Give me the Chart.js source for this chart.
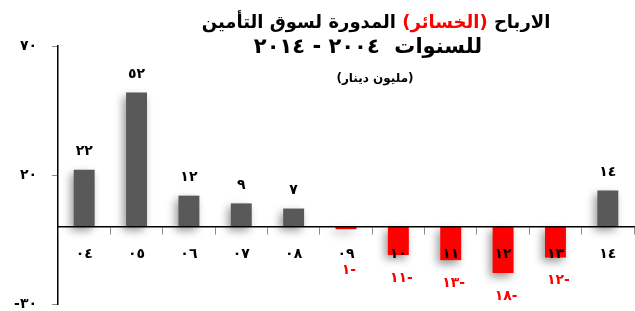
<!DOCTYPE html>
<html><head><meta charset="utf-8">
<script src="https://cdn.jsdelivr.net/npm/chart.js@4"></script>
<style>html,body{margin:0;padding:0;background:#fff;overflow:hidden}</style>
</head><body>
<canvas id="c" width="635" height="311"></canvas>
<script>
const categories = ['٠٤','٠٥','٠٦','٠٧','٠٨','٠٩','١٠','١١','١٢','١٣','١٤'];
const values = [22, 52, 12, 9, 7, -1, -11, -13, -18, -12, 14];
const yMin = -30, yMax = 70, yStep = 50;
const titleLine1 = ['الارباح', '(الخسائر)', 'المدورة لسوق التأمين'];
const titleLine2 = 'للسنوات  ٢٠٠٤ - ٢٠١٤';
const titleLine3 = '(مليون دينار)';

const FONT = "'DejaVu Sans', sans-serif";
const POS = '#595959', NEG = '#ff0000';

function toArabic(n){
  const d = String(Math.abs(n)).replace(/[0-9]/g, c => '٠١٢٣٤٥٦٧٨٩'[+c]);
  return d;
}
const barColors = values.map(v => v < 0 ? NEG : POS);

const decor = {
  id: 'decor',
  beforeDatasetsDraw(chart){
    const ctx = chart.ctx;
    ctx.save();
    ctx.shadowColor = 'rgba(0,0,0,0.4)';
    ctx.shadowBlur = 8;
    ctx.shadowOffsetX = -3;
    ctx.shadowOffsetY = 4;
  },
  afterDatasetsDraw(chart){
    const ctx = chart.ctx;
    ctx.restore();
    ctx.save();
    ctx.direction = 'ltr';
    ctx.textAlign = 'center';
    ctx.textBaseline = 'middle';
    ctx.font = 'bold 14px ' + FONT;
    const meta = chart.getDatasetMeta(0);
    meta.data.forEach((bar, i) => {
      const v = values[i];
      if (v >= 0){
        ctx.fillStyle = '#000';
        ctx.fillText(toArabic(v), bar.x, bar.y - 18);
      } else {
        ctx.fillStyle = NEG;
        const y = Math.max(bar.y + 23, 270);
        ctx.fillText(toArabic(v) + '-', bar.x + 3, y);
      }
    });
    ctx.restore();
  },
  afterDraw(chart){
    const ctx = chart.ctx;
    ctx.save();
    ctx.direction = 'ltr';
    ctx.textBaseline = 'middle';
    ctx.font = 'bold 18px ' + FONT;
    const gap = ctx.measureText(' ').width;
    const w = titleLine1.map(t => ctx.measureText(t).width);
    const total = w.reduce((a,b)=>a+b,0) + gap*2;
    const cx1 = 376;
    let xr = cx1 + total/2;
    ctx.textAlign = 'right';
    const cols = ['#000', NEG, '#000'];
    titleLine1.forEach((t, i) => {
      ctx.fillStyle = cols[i];
      ctx.fillText(t, xr, 23);
      xr -= w[i] + gap;
    });
    ctx.textAlign = 'center';
    ctx.fillStyle = '#000';
    ctx.font = 'bold 21px ' + FONT;
    ctx.fillText(titleLine2, 368, 48);
    ctx.font = 'bold 12px ' + FONT;
    ctx.fillText(titleLine3, 375, 79);
    ctx.restore();
  }
};

new Chart(document.getElementById('c'), {
  type: 'bar',
  data: {
    labels: categories,
    datasets: [{
      data: values,
      backgroundColor: barColors,
      borderWidth: 0,
      barPercentage: 0.4,
      categoryPercentage: 1
    }]
  },
  options: {
    responsive: false,
    devicePixelRatio: 1,
    animation: false,
    layout: { padding: { top: 46, bottom: 7, left: 0, right: 1 } },
    plugins: { legend: { display: false }, title: { display: false }, tooltip: { enabled: false } },
    scales: {
      x: {
        position: { y: 0 },
        grid: { offset: true, drawOnChartArea: false, drawTicks: true, tickLength: 7, color: '#8c8c8c', z: 1 },
        border: { display: true, color: '#000', width: 1.5, z: 1 },
        ticks: { z: 1, padding: 12, color: '#000', font: { family: FONT, size: 14, weight: 'bold' }, maxRotation: 0, autoSkip: false }
      },
      y: {
        min: yMin, max: yMax,
        afterFit(s){ s.width = 58; s.paddingTop = 0; s.paddingBottom = 0; },
        grid: { drawOnChartArea: false, drawTicks: true, tickLength: 6, color: '#8c8c8c' },
        border: { display: true, color: '#000', width: 1.5 },
        ticks: {
          stepSize: yStep, padding: 15, color: '#000',
          font: { family: FONT, size: 14, weight: 'bold' },
          callback: v => (v < 0 ? '-' : '') + toArabic(v)
        }
      }
    }
  },
  plugins: [decor]
});
</script>
</body></html>
